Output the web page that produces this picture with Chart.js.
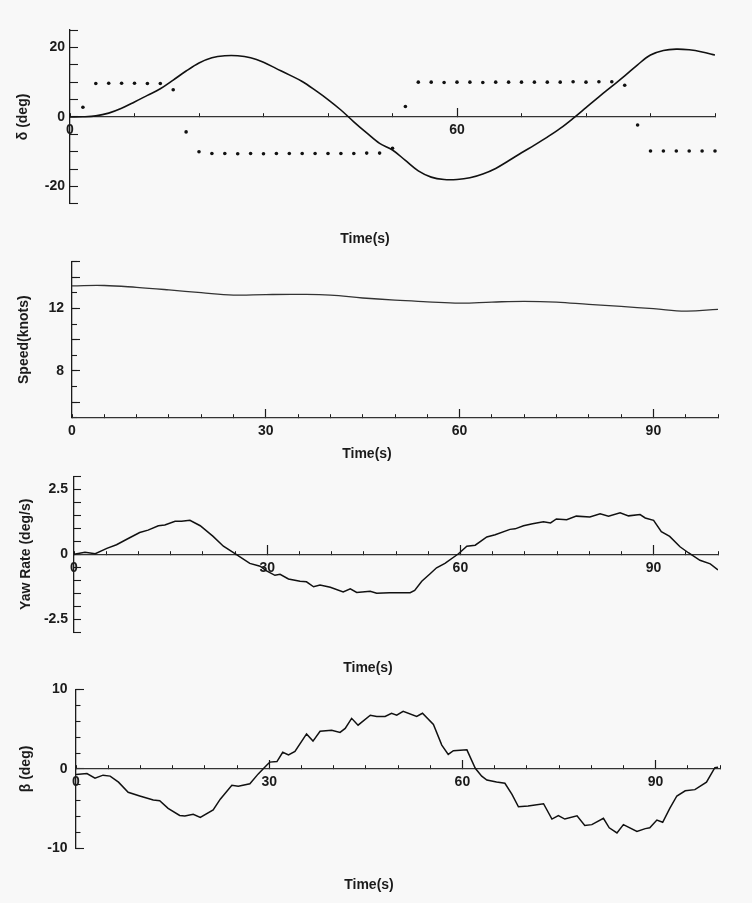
<!DOCTYPE html>
<html><head><meta charset="utf-8">
<script src="https://cdn.jsdelivr.net/npm/chart.js@4.4.1/dist/chart.umd.min.js"></script>
<style>
html,body{margin:0;padding:0;background:#f8f8f8;}
body{width:752px;height:903px;position:relative;overflow:hidden;}
canvas{position:absolute;left:0;}
</style></head><body>
<canvas id="c1" width="752" height="252" style="top:0px"></canvas>
<canvas id="c2" width="752" height="225" style="top:240px"></canvas>
<canvas id="c3" width="752" height="225" style="top:455px"></canvas>
<canvas id="c4" width="752" height="235" style="top:668px"></canvas>
<script>
// ---- data ----
const xTitle = 'Time(s)';
const majorTimeTicks = [30, 60, 90];
const timeLabels = [0, 30, 60, 90];
const timeLabelsTop = [0, 60];
const majorTimeTicksTop = [60];

const rudderTime = [0,2,4,6,8,10,12,14,16,18,20,22,24,26,28,30,32,34,36,38,40,42,44,46,48,50,52,54,56,58,60,62,64,66,68,70,72,74,76,78,80,82,84,86,88,90,92,94,96,98,100];
const rudderAngle = [0,0.05,0.3,1.1,2.5,4.3,6.2,8.1,10.6,13.2,15.5,17.0,17.6,17.6,17.0,15.7,13.9,12.1,10.2,7.7,5.0,2.0,-1.4,-4.6,-7.6,-9.5,-12.5,-15.5,-17.3,-18.0,-18.0,-17.5,-16.4,-14.8,-12.6,-10.3,-8.1,-5.8,-3.3,-0.4,2.7,5.8,8.8,11.8,15.0,17.8,19.1,19.5,19.3,18.7,17.8];
const commandTime = [2,4,6,8,10,12,14,16,18,20,22,24,26,28,30,32,34,36,38,40,42,44,46,48,50,52,54,56,58,60,62,64,66,68,70,72,74,76,78,80,82,84,86,88,90,92,94,96,98,100];
const commandAngle = [2.8,9.6,9.7,9.7,9.7,9.6,9.6,7.8,-4.3,-10.0,-10.5,-10.5,-10.6,-10.5,-10.6,-10.5,-10.5,-10.5,-10.5,-10.5,-10.5,-10.5,-10.4,-10.4,-9.0,3.0,10,10,9.9,10,10,9.9,10,10,10,10,10,10,10.1,10,10.1,10.1,9.1,-2.3,-9.8,-9.8,-9.8,-9.8,-9.8,-9.8];

const speedTime = [0,5,10,15,20,25,30,35,40,45,50,55,60,65,70,75,80,85,90,95,100];
const speedKnots = [13.44,13.46,13.34,13.18,13.0,12.85,12.88,12.89,12.85,12.66,12.52,12.42,12.33,12.4,12.45,12.4,12.25,12.12,11.98,11.82,11.94];

const yawTime = [0,1.7,3.3,5.1,6.6,8.2,10.2,11.5,13.1,14.1,15.7,16.7,18,19.6,21.6,23.2,25,27.3,28.9,29.9,31.2,32,33.3,35.1,36.1,37.2,38.2,39.8,41.8,42.9,43.9,46,47,49,52.2,52.9,54,55.3,56.3,57.6,59.7,61,62.3,64.1,65.4,67.7,68.5,69.8,71.2,72.9,74,74.9,76.5,78,80.1,81.7,83,84.8,86.1,87.9,88.7,90,91.2,92.5,94.1,95.4,97.2,98.8,100];
const yawRate = [0,0.08,0.02,0.23,0.37,0.58,0.84,0.93,1.1,1.13,1.27,1.27,1.31,1.1,0.69,0.31,0.03,-0.35,-0.46,-0.64,-0.81,-0.77,-0.95,-1.04,-1.06,-1.25,-1.18,-1.27,-1.45,-1.33,-1.47,-1.42,-1.5,-1.48,-1.48,-1.39,-1.04,-0.75,-0.52,-0.35,0.02,0.31,0.35,0.67,0.75,0.96,0.98,1.1,1.18,1.25,1.21,1.36,1.33,1.47,1.44,1.56,1.47,1.6,1.48,1.53,1.4,1.31,0.87,0.69,0.29,0.06,-0.23,-0.37,-0.6];

const betaTime = [0,1.7,2.95,4.2,5.3,6.6,8.1,9.9,12,13,14.3,16.1,16.9,18.2,19.3,21.3,22.4,24.2,25.2,27,28.3,29.6,30.1,31.2,32.1,33,34,35.8,36.8,37.9,39.7,41,41.8,42.8,43.8,45.7,46.7,48,49,49.8,50.8,52.9,53.8,55.5,56.8,57.8,58.6,60.7,62,63,63.8,65.3,66.6,67.7,68.7,70.2,72.6,73.9,74.9,75.9,77.8,79,80.1,81.9,82.8,84,85,87.1,88.4,89.1,90.2,91.1,92.2,93.3,94.6,96.1,97.9,99.2,99.7];
const betaDeg = [-0.7,-0.58,-1.16,-0.78,-0.9,-1.66,-2.94,-3.4,-3.9,-4,-4.96,-5.85,-5.9,-5.7,-6.1,-5.15,-3.8,-2.05,-2.16,-1.86,-0.62,0.47,0.86,0.93,2.1,1.75,2.2,4.4,3.5,4.73,4.85,4.6,5.1,6.36,5.5,6.75,6.6,6.6,7.0,6.75,7.25,6.6,7.0,5.6,3.0,1.83,2.3,2.4,0.08,-0.9,-1.4,-1.65,-1.8,-3.2,-4.76,-4.65,-4.37,-6.3,-5.85,-6.3,-5.9,-7.1,-7.0,-6.2,-7.4,-8.05,-7.0,-7.86,-7.5,-7.4,-6.43,-6.7,-4.96,-3.4,-2.75,-2.6,-1.66,0.16,0.2];

// ---- helpers ----
const INK = '#1b1b1b';
const FONT = "'Liberation Sans', Arial, Helvetica, sans-serif";
const pts = (xs, ys) => xs.map((x, i) => ({x, y: ys[i]}));
const has = (arr, v) => arr.some(a => Math.abs(a - v) < 1e-6);

function panel(id, o) {
  return new Chart(document.getElementById(id), {
    type: 'line',
    data: {datasets: o.datasets},
    options: {
      responsive: false, animation: false, events: [],
      layout: {padding: o.padding},
      plugins: {
        legend: {display: false}, tooltip: {enabled: false},
        title: {display: true, position: 'bottom', text: xTitle, color: INK,
          font: {family: FONT, size: 14, weight: 'bold', lineHeight: 1.2}, padding: o.titlePad}
      },
      scales: {
        x: {type: 'linear', min: 0, max: 100, position: {y: o.xAt},
          ticks: {stepSize: o.xStep, autoSkip: false, maxRotation: 0, color: INK, padding: 9,
            font: {family: FONT, size: 14, weight: 'bold'}, callback: v => has(o.xLabels, v) ? String(v) : ''},
          grid: {drawOnChartArea: false, drawTicks: true, tickLength: -4, tickColor: INK, tickWidth: 1},
          border: {display: true, color: '#333', width: 1.2}},
        xMajor: {type: 'linear', axis: 'x', min: 0, max: 100, position: {y: o.xAt},
          afterBuildTicks: s => { s.ticks = o.xMajor.map(v => ({value: v})); },
          ticks: {display: false},
          grid: {drawOnChartArea: false, drawTicks: true, tickLength: -9, tickColor: INK, tickWidth: 1.2},
          border: {display: false}},
        y: {type: 'linear', position: 'left', min: o.yMin, max: o.yMax,
          afterFit: s => { s.width = o.yWidth; },
          ticks: {stepSize: o.yStep, autoSkip: false, color: INK, padding: 13,
            font: {family: FONT, size: 14, weight: 'bold'}, callback: v => has(o.yLabels, v) ? String(v) : ''},
          grid: {drawOnChartArea: false, drawTicks: true, tickLength: -o.yTick, tickColor: INK, tickWidth: 1.1},
          border: {display: true, color: INK, width: 1.3},
          title: {display: true, text: o.yTitle, color: INK, padding: 0,
            font: {family: FONT, size: 14, weight: 'bold', lineHeight: 1.2}}},
        yMajor: {type: 'linear', axis: 'y', min: o.yMin, max: o.yMax, position: {x: 0},
          afterBuildTicks: s => { s.ticks = o.yMajor.map(v => ({value: v})); },
          ticks: {display: false},
          grid: {drawOnChartArea: false, drawTicks: true, tickLength: -8, tickColor: INK, tickWidth: 1.1},
          border: {display: false}}
      }
    }
  });
}

panel('c1', {
  padding: {left: 15, right: 37, top: 30, bottom: 0}, titlePad: {top: 27.3, bottom: 4},
  xAt: 0, xStep: 10, xLabels: timeLabelsTop, xMajor: majorTimeTicksTop,
  yMin: -25, yMax: 25, yStep: 5, yLabels: [-20, 0, 20], yWidth: 55, yTick: 8, yMajor: [], yTitle: 'δ (deg)',
  datasets: [
    {data: pts(rudderTime, rudderAngle), borderColor: '#111', borderWidth: 1.6, pointRadius: 0, tension: 0.35, fill: false},
    {data: pts(commandTime, commandAngle), showLine: false, pointRadius: 1.8, pointBackgroundColor: '#111', pointBorderWidth: 0, clip: 6}
  ]
});
panel('c2', {
  padding: {left: 16, right: 34, top: 5, bottom: 0}, titlePad: {top: 28.3, bottom: 2},
  xAt: 5, xStep: 5, xLabels: timeLabels, xMajor: majorTimeTicks,
  yMin: 5, yMax: 15, yStep: 1, yLabels: [8, 12], yWidth: 56, yTick: 5, yMajor: [6, 8, 10, 12, 14, 15], yTitle: 'Speed(knots)',
  datasets: [
    {data: pts(speedTime, speedKnots), borderColor: '#333', borderWidth: 1.3, pointRadius: 0, tension: 0.4, fill: false}
  ]
});
panel('c3', {
  padding: {left: 18, right: 34, top: 5, bottom: 0}, titlePad: {top: 28, bottom: 3},
  xAt: 0, xStep: 5, xLabels: timeLabels, xMajor: majorTimeTicks,
  yMin: -3, yMax: 3, yStep: 0.5, yLabels: [-2.5, 0, 2.5], yWidth: 56, yTick: 7, yMajor: [], yTitle: 'Yaw Rate (deg/s)',
  datasets: [
    {data: pts(yawTime, yawRate), borderColor: '#111', borderWidth: 1.5, pointRadius: 0, tension: 0, fill: false}
  ]
});
panel('c4', {
  padding: {left: 18, right: 32, top: 7, bottom: 0}, titlePad: {top: 28.7, bottom: 9},
  xAt: 0, xStep: 5, xLabels: timeLabels, xMajor: majorTimeTicks,
  yMin: -10, yMax: 10, yStep: 2, yLabels: [-10, 0, 10], yWidth: 58, yTick: 4.5, yMajor: [-10, 0, 10], yTitle: 'β (deg)',
  datasets: [
    {data: pts(betaTime, betaDeg), borderColor: '#111', borderWidth: 1.5, pointRadius: 0, tension: 0, fill: false}
  ]
});
</script>
</body></html>
